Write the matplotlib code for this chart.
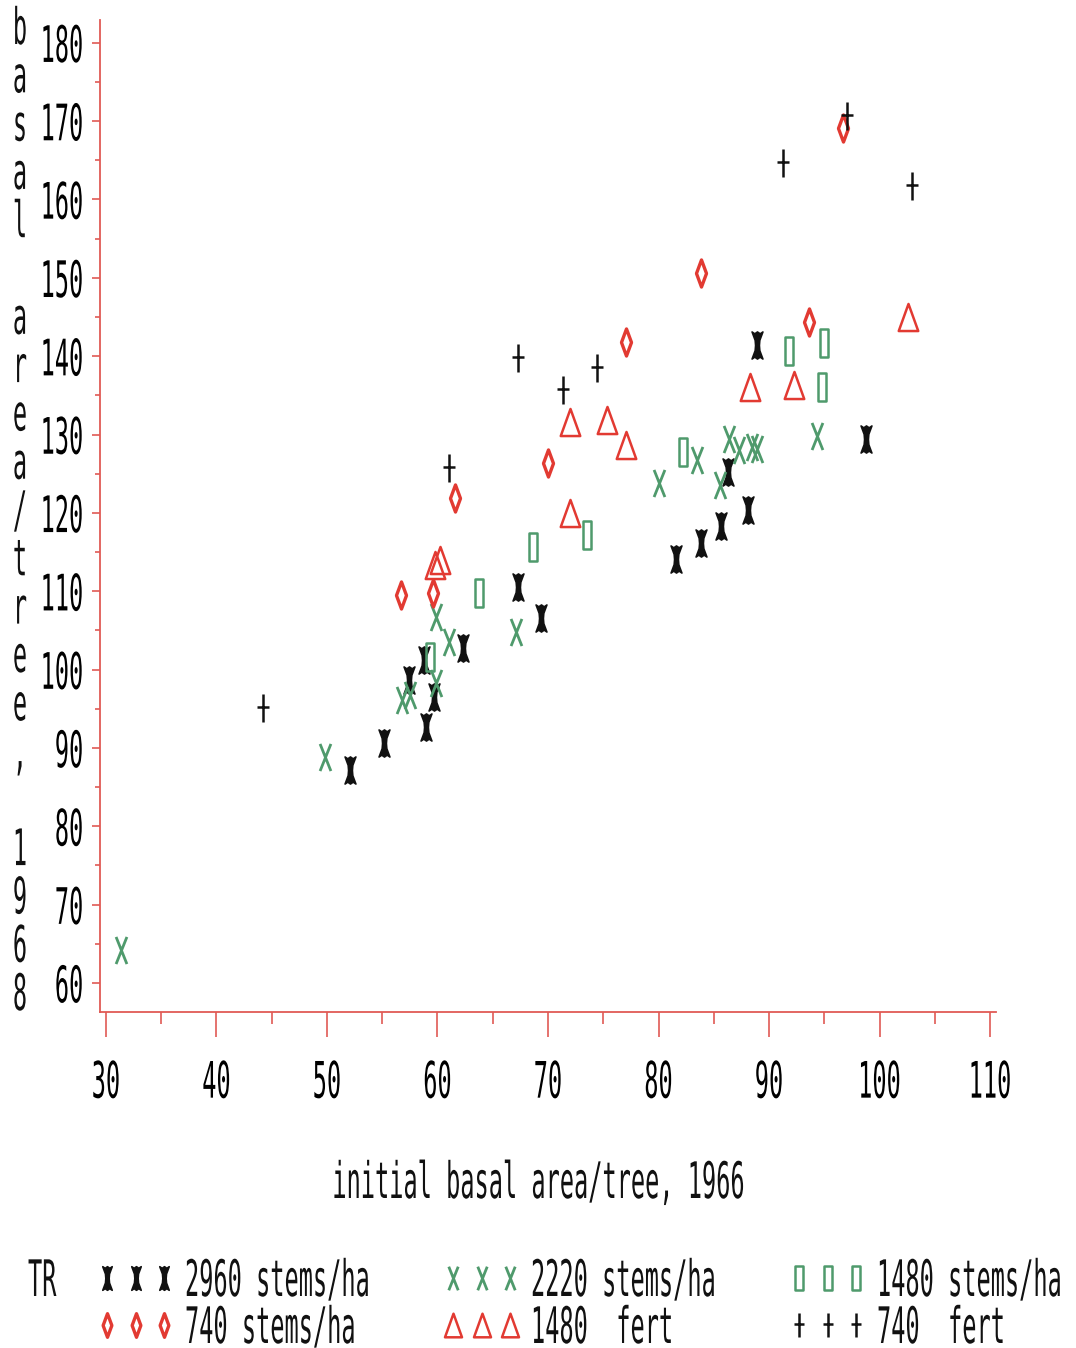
import matplotlib
matplotlib.use("Agg")
import matplotlib.pyplot as plt
from matplotlib.path import Path
from matplotlib.patheffects import AbstractPathEffect
from matplotlib.transforms import Affine2D

# ---- basal area per tree: initial (1966) vs. 1968, by treatment ----
x_2960 = [52.1, 55.2, 57.4, 59.0, 58.8, 59.7, 62.3, 67.3, 69.4, 81.6, 83.8, 85.7, 86.3, 88.1, 88.9, 98.8]
y_2960 = [87.2, 90.6, 98.7, 92.7, 101.2, 96.5, 102.8, 110.6, 106.6, 114.1, 116.2, 118.3, 125.2, 120.4, 141.4, 129.4]

x_2220 = [31.4, 49.8, 56.8, 57.5, 59.9, 61.0, 59.9, 67.1, 80.0, 83.5, 85.6, 86.4, 87.3, 88.5, 88.9, 94.3]
y_2220 = [64.2, 88.8, 96.1, 96.8, 106.7, 103.5, 98.3, 104.8, 123.8, 126.8, 123.6, 129.4, 128.0, 128.4, 128.2, 129.8]

x_1480 = [59.3, 63.8, 68.6, 73.5, 82.2, 91.8, 95.0, 94.8]
y_1480 = [101.6, 109.8, 115.7, 117.2, 127.8, 140.6, 141.7, 136.0]

x_740 = [56.7, 59.6, 61.6, 70.0, 77.1, 83.8, 93.6, 96.7]
y_740 = [109.5, 109.8, 121.9, 126.4, 141.8, 150.6, 144.3, 169.1]

x_1480f = [59.8, 60.2, 72.0, 72.0, 75.3, 77.1, 88.3, 92.3, 102.6]
y_1480f = [113.4, 114.0, 120.0, 131.6, 131.9, 128.7, 136.1, 136.3, 145.0]

x_740f = [44.2, 61.0, 67.3, 71.4, 74.4, 91.3, 97.1, 102.9]
y_740f = [95.1, 125.7, 139.8, 135.7, 138.5, 164.7, 170.6, 161.7]

labels = ["2960 stems/ha", "2220 stems/ha", "1480 stems/ha",
          "740 stems/ha", "1480  fert", "740  fert"]
x_ticks = [30, 40, 50, 60, 70, 80, 90, 100, 110]
y_ticks = [60, 70, 80, 90, 100, 110, 120, 130, 140, 150, 160, 170, 180]
x_title = "initial basal area/tree, 1966"
y_title = "basal area/tree, 1968"

RED = "#e23a32"
GREEN = "#4f9a6c"
BLACK = "#111111"
AXIS = "#e05a55"


class Stretch(AbstractPathEffect):
    """Tall, narrow plotter-style lettering: rescale glyph outlines."""

    def __init__(self, sx, sy, anchor_x=0.5, anchor_y=None):
        super().__init__()
        self.sx, self.sy = sx, sy
        self.anchor_x, self.anchor_y = anchor_x, anchor_y

    def draw_path(self, renderer, gc, tpath, affine, rgbFace=None):
        ext = tpath.get_extents()
        cx = ext.x0 + self.anchor_x * ext.width
        cy = 0.5 * (ext.y0 + ext.y1) if self.anchor_y is None else self.anchor_y
        t = (Affine2D().translate(-cx, -cy).scale(self.sx, self.sy)
             .translate(cx, cy) + affine)
        renderer.draw_path(gc, tpath, t, rgbFace)


def strokes(*segments, closed=False):
    verts, codes = [], []
    for seg in segments:
        for i, p in enumerate(seg):
            verts.append(p)
            codes.append(Path.MOVETO if i == 0 else Path.LINETO)
        if closed:
            verts.append(seg[0])
            codes.append(Path.CLOSEPOLY)
    return Path(verts, codes)


# heavy "X" with splayed feet, drawn as a filled outline
m_heavy_x = strokes([(-0.40, 1.0), (-0.20, 0.86), (0.0, 1.0), (0.20, 0.86), (0.40, 1.0),
                     (0.17, 0.38), (0.14, 0.0), (0.17, -0.38),
                     (0.40, -1.0), (0.20, -0.86), (0.0, -1.0), (-0.20, -0.86), (-0.40, -1.0),
                     (-0.17, -0.38), (-0.14, 0.0), (-0.17, 0.38)], closed=True)
m_x = strokes([(-0.4, 1), (0.4, -1)], [(0.4, 1), (-0.4, -1)])
m_rect = strokes([(-0.33, -1), (0.33, -1), (0.33, 1), (-0.33, 1)], closed=True)
m_diamond = strokes([(0, 1), (0.37, 0), (0, -1), (-0.37, 0)], closed=True)
m_tri = strokes([(0, 1), (0.72, -1), (-0.72, -1)], closed=True)
m_plus = strokes([(0, 1), (0, -1)], [(-0.42, 0.08), (0.42, 0.08)])

# (x, y, marker, colour, edge width, filled)
series = [
    (x_2960, y_2960, m_heavy_x, BLACK, 1.2, True),
    (x_2220, y_2220, m_x, GREEN, 2.0, False),
    (x_1480, y_1480, m_rect, GREEN, 1.8, False),
    (x_740, y_740, m_diamond, RED, 2.4, False),
    (x_1480f, y_1480f, m_tri, RED, 1.8, False),
    (x_740f, y_740f, m_plus, BLACK, 1.8, False),
]

plt.rcParams["font.family"] = ["DejaVu Sans Mono", "DejaVu Sans"]
FS = 17
SX, SY = 1.0, 2.13

W, H = 1076, 1348
fig = plt.figure(figsize=(W / 100, H / 100), dpi=100)
ax = fig.add_axes([100 / W, 336 / H, 896 / W, 992 / H])

for xs, ys, mk, col, lw, filled in series:
    ax.plot(xs, ys, linestyle="none", marker=mk, markersize=19.5,
            markerfacecolor=col if filled else "none", markeredgecolor=col,
            markeredgewidth=lw, clip_on=False)

ax.set_xlim(29.46, 110.54)
ax.set_ylim(56.3, 182.9)

for side in ("top", "right"):
    ax.spines[side].set_visible(False)
for side in ("left", "bottom"):
    ax.spines[side].set_color(AXIS)
    ax.spines[side].set_linewidth(1.3)

ax.set_xticks(x_ticks)
ax.set_xticklabels([str(v) for v in x_ticks])
ax.set_xticks([v + 5 for v in x_ticks[:-1]], minor=True)
ax.set_yticks(y_ticks)
ax.set_yticklabels([str(v) for v in y_ticks])
ax.set_yticks([v + 5 for v in y_ticks[:-1]], minor=True)

ax.tick_params(axis="x", which="major", direction="out", length=18, width=1.2,
               color=AXIS, pad=23, labelsize=FS)
ax.tick_params(axis="x", which="minor", direction="out", length=8.5, width=1.2,
               color=AXIS)
ax.tick_params(axis="y", which="major", direction="out", length=6, width=1.2,
               color=AXIS, pad=6, labelsize=FS)
ax.tick_params(axis="y", which="minor", direction="out", length=3.5, width=1.2,
               color=AXIS)

for lbl in ax.get_xticklabels():
    lbl.set_path_effects([Stretch(SX, SY, 0.5)])
for lbl in ax.get_yticklabels():
    lbl.set_path_effects([Stretch(SX, SY, 1.0)])

# stacked vertical axis title, one character per line (baseline grid)
for k, ch in enumerate(y_title):
    fig.text(20 / W, 1 - (44 + 48.3 * k) / H, ch, ha="center", va="baseline",
             fontsize=FS, color=BLACK, path_effects=[Stretch(SX, SY, 0.5, 0.0)])

fig.text(539 / W, 1 - 1198 / H, x_title, ha="center", va="baseline",
         fontsize=FS, color=BLACK, path_effects=[Stretch(SX, SY, 0.5, 0.0)])

# key below the chart: three columns, two rows
key = fig.add_axes([0, 0, 1, 1], facecolor="none")
key.set_xlim(0, W)
key.set_ylim(H, 0)
key.axis("off")

key.text(28, 1278 + 18, "TR", ha="left", va="baseline", fontsize=FS,
         color=BLACK, path_effects=[Stretch(SX, SY, 0.0, 0.0)])
order = [(0, 0), (1, 0), (2, 0), (0, 1), (1, 1), (2, 1)]
for (col, row), (xs, ys, mk, c, lw, filled), lab in zip(order, series, labels):
    x0 = 107 + 346 * col
    yy = 1278 + 47 * row
    key.plot([x0, x0 + 28.5, x0 + 57], [yy] * 3, linestyle="none", marker=mk,
             markersize=17, markerfacecolor=c if filled else "none",
             markeredgecolor=c, markeredgewidth=lw)
    key.text(x0 + 78, yy + 18, lab, ha="left", va="baseline", fontsize=FS,
             color=BLACK, path_effects=[Stretch(SX, SY, 0.0, 0.0)])

fig.savefig("out.png", dpi=100, facecolor="white")
